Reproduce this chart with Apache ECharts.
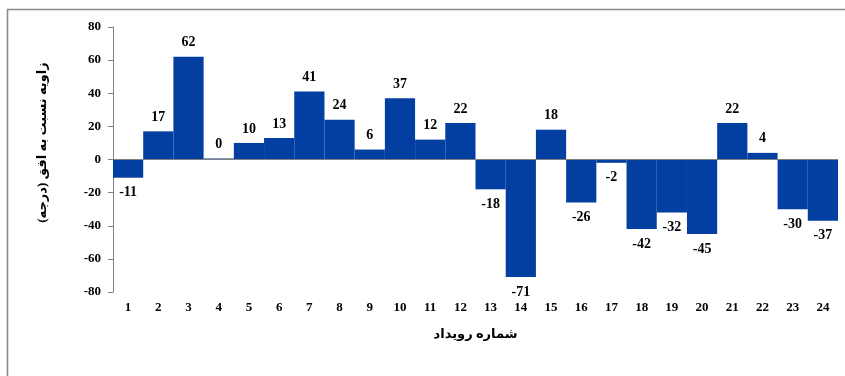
<!DOCTYPE html>
<html>
<head>
<meta charset="utf-8">
<script src="https://cdn.jsdelivr.net/npm/echarts@6/dist/echarts.min.js"></script>
<style>
  html, body { margin: 0; padding: 0; background: #fff; }
  #chart { width: 845px; height: 376px; }
</style>
</head>
<body>
<div id="chart"></div>
<script>
// Event numbers along the horizontal axis
const events = ['1','2','3','4','5','6','7','8','9','10','11','12','13','14','15','16','17','18','19','20','21','22','23','24'];
// Angle relative to the horizon for each event (degrees)
const angles = [-11, 17, 62, 0, 10, 13, 41, 24, 6, 37, 12, 22, -18, -71, 18, -26, -2, -42, -32, -45, 22, 4, -30, -37];
// Vertical axis range and step
const yMin = -80, yMax = 80, yStep = 20;

const xTitle = 'شماره رویداد';
const yTitle = 'زاویه نسبت به افق (درجه)';

const serif = '"Liberation Serif", "Times New Roman", "DejaVu Sans", serif';
const barBlue = '#023FA1';

const chart = echarts.init(document.getElementById('chart'), null, { renderer: 'canvas' });

const barData = angles.map(v => ({
  value: v,
  label: { position: v < 0 ? 'bottom' : 'top', distance: v < 0 ? 8 : 7 }
}));

chart.setOption({
  animation: false,
  backgroundColor: '#fff',
  grid: { left: 113, right: 7, top: 27, bottom: 84 },
  graphic: [{
    type: 'polyline',
    shape: { points: [[7.5, 380], [7.5, 9.5], [850, 9.5]] },
    style: { stroke: '#8a8a8a', lineWidth: 1.6, fill: null },
    silent: true
  }],
  xAxis: {
    type: 'category',
    data: events,
    position: 'bottom',
    axisLine: { show: false },
    axisTick: { show: false },
    axisLabel: {
      margin: 9,
      color: '#000',
      fontFamily: serif,
      fontWeight: 'bold',
      fontSize: 13
    },
    name: xTitle,
    nameLocation: 'middle',
    nameGap: 36,
    nameTextStyle: {
      color: '#000',
      fontFamily: serif,
      fontWeight: 'bold',
      fontSize: 13
    }
  },
  yAxis: {
    type: 'value',
    min: yMin,
    max: yMax,
    interval: yStep,
    axisLine: { show: true, lineStyle: { color: '#808080', width: 1 } },
    axisTick: { show: true, length: 5, lineStyle: { color: '#808080' } },
    splitLine: { show: false },
    axisLabel: {
      margin: 12,
      color: '#000',
      fontFamily: serif,
      fontWeight: 'bold',
      fontSize: 13
    },
    name: yTitle,
    nameLocation: 'middle',
    nameRotate: 90,
    nameGap: 64,
    nameTextStyle: {
      color: '#000',
      fontFamily: serif,
      fontWeight: 'bold',
      fontSize: 13,
      padding: [0, 0, 0, 34]
    }
  },
  series: [{
    type: 'bar',
    data: barData,
    barCategoryGap: '0%',
    barMinHeight: 1,
    itemStyle: { color: barBlue },
    label: {
      show: true,
      color: '#000',
      fontFamily: serif,
      fontWeight: 'bold',
      fontSize: 14
    },
    markLine: {
      silent: true,
      symbol: 'none',
      label: { show: false },
      lineStyle: { color: '#808080', type: 'solid', width: 1 },
      data: [{ yAxis: 0 }]
    }
  }]
});
</script>
</body>
</html>
